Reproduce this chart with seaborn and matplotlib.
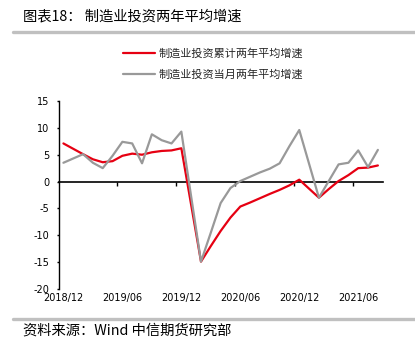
import matplotlib
matplotlib.use("Agg")
import matplotlib.pyplot as plt
from matplotlib.lines import Line2D
import seaborn as sns
import pandas as pd
import numpy as np

# ---- data ----
months = ["2018-12", "2019-02", "2019-03", "2019-04", "2019-05", "2019-06", "2019-07",
          "2019-08", "2019-09", "2019-10", "2019-11", "2019-12",
          "2020-02", "2020-03", "2020-04", "2020-05", "2020-06", "2020-07", "2020-08",
          "2020-09", "2020-10", "2020-11", "2020-12",
          "2021-02", "2021-03", "2021-04", "2021-05", "2021-06", "2021-07", "2021-08"]
cumulative = [7.1, 5.1, 4.15, 3.6, 3.8, 4.8, 5.2, 5.0, 5.45, 5.7, 5.8, 6.2,
              -14.9, -12.0, -9.2, -6.7, -4.65, -3.9, -3.1, -2.3, -1.55, -0.7, 0.35,
              -3.0, -1.4, 0.1, 1.2, 2.5, 2.6, 3.0]
monthly = [3.5, 5.1, 3.5, 2.5, 4.8, 7.4, 7.1, 3.4, 8.8, 7.7, 7.1, 9.3,
           -14.9, -9.5, -4.0, -1.2, 0.1, 0.9, 1.7, 2.4, 3.4, 6.6, 9.6,
           -3.0, 0.1, 3.2, 3.5, 5.8, 2.7, 5.9]
series_names = ["制造业投资累计两年平均增速", "制造业投资当月两年平均增速"]
tick_labels = ["2018/12", "2019/06", "2019/12", "2020/06", "2020/12", "2021/06"]
y_ticks = [-20, -15, -10, -5, 0, 5, 10, 15]
title = "图表18： 制造业投资两年平均增速"
source = "资料来源：Wind 中信期货研究部"

red = "#E60012"
gray = "#999999"

sns.set_style("white")
plt.rcParams["font.family"] = ["Noto Sans CJK SC", "DejaVu Sans"]
plt.rcParams["axes.unicode_minus"] = False

dates = pd.to_datetime(months)
start = pd.Timestamp("2018-12-01")
xpos = (dates.year - start.year) * 12 + (dates.month - start.month)
df = pd.DataFrame({"x": xpos, "cum": cumulative, "mon": monthly})

W, H = 415, 339
fig = plt.figure(figsize=(W / 100, H / 100), dpi=100)
ax = fig.add_axes([58.5 / W, 1 - 289 / H, (382.8 - 58.5) / W, 188 / H])

sns.lineplot(data=df, x="x", y="cum", color=red, lw=1.6, ax=ax, label=series_names[0])
sns.lineplot(data=df, x="x", y="mon", color=gray, lw=1.6, ax=ax, label=series_names[1])
ax.get_legend().remove()

n = int(xpos.max()) + 1
ax.set_xlim(-0.5, n - 0.5)
ax.set_ylim(-20, 15)
ax.set_xlabel("")
ax.set_ylabel("")

# spines
for s in ["top", "right"]:
    ax.spines[s].set_visible(False)
ax.spines["left"].set_color("black")
ax.spines["left"].set_linewidth(1.0)
ax.spines["bottom"].set_color("black")
ax.spines["bottom"].set_linewidth(1.2)
ax.spines["bottom"].set_position(("data", 0))
ax.spines["bottom"].set_zorder(1)

tick_font = {"family": "DejaVu Sans", "size": 7}

ax.set_yticks(y_ticks)
ax.set_yticklabels([str(v) for v in y_ticks], fontdict=tick_font)
ax.tick_params(axis="y", direction="out", length=1.6, width=1, color="black",
               pad=5, labelcolor="black", left=True)

# tick marks between categories on the zero line, no labels
between = [i * 6 - 0.5 for i in range(1, len(tick_labels))]
ax.set_xticks(between)
ax.set_xticklabels([""] * len(between))
ax.tick_params(axis="x", direction="out", length=2.6, width=1, color="black", bottom=True)

# labels at the bottom of the plot
sec = ax.secondary_xaxis("bottom")
sec.set_xticks([i * 6 for i in range(len(tick_labels))])
sec.set_xticklabels(tick_labels, fontdict=tick_font)
sec.tick_params(length=0, pad=3, labelcolor="black")
sec.spines["bottom"].set_visible(False)

# title and decorations
fig.text(23 / W, 1 - 16 / H, title, fontsize=10.3, va="center", ha="left", color="black")
fig.add_artist(Line2D([13 / W, 1], [1 - 32 / H, 1 - 32 / H], transform=fig.transFigure,
                      color="#C0C0C0", lw=2.4))
fig.add_artist(Line2D([13 / W, 1], [1 - 319 / H, 1 - 319 / H], transform=fig.transFigure,
                      color="#C0C0C0", lw=2.4))
fig.text(23 / W, 1 - 331 / H, source, fontsize=10.3, va="center", ha="left", color="black")

handles = [Line2D([], [], color=red, lw=1.6), Line2D([], [], color=gray, lw=1.6)]
fig.legend(handles, series_names, loc="center left", bbox_to_anchor=(123 / W, 1 - 64 / H),
           frameon=False, fontsize=8, handlelength=2.9, handletextpad=0.3,
           labelspacing=0.95, borderpad=0, borderaxespad=0)

fig.savefig("out.png", dpi=100)
